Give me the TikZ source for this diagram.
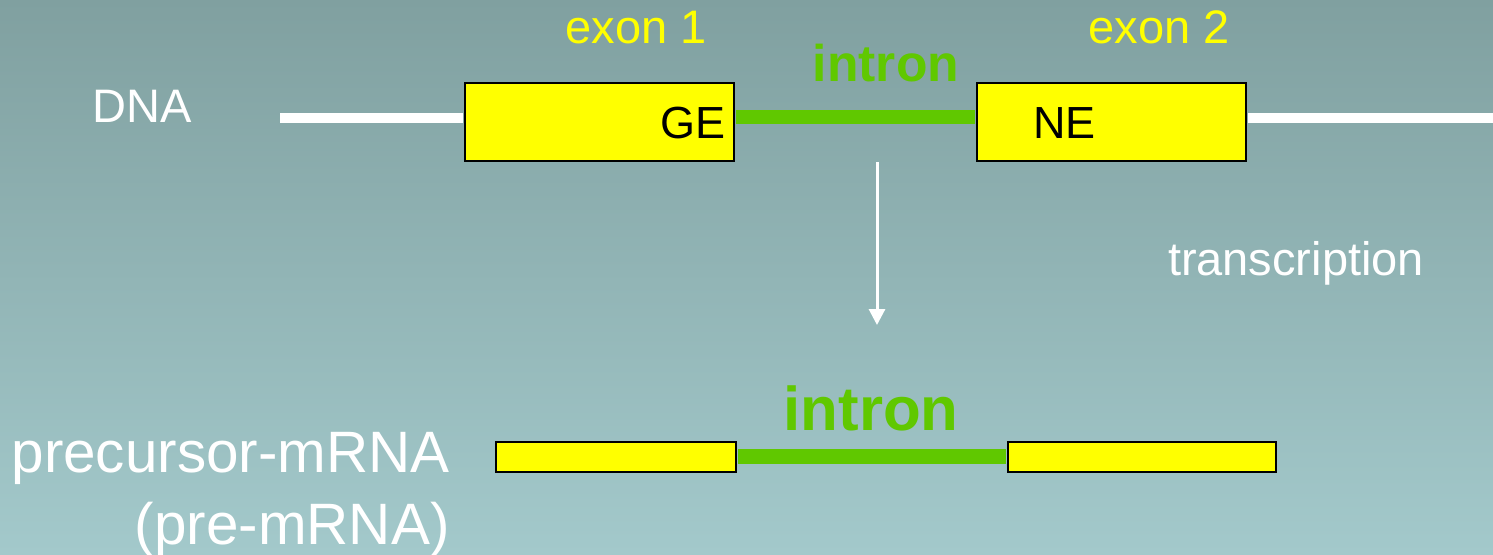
\documentclass[tikz,border=0pt]{standalone}
\usepackage{fontspec}
\setmainfont{Liberation Sans}
\usetikzlibrary{arrows.meta}
\definecolor{bgtop}{RGB}{128,160,160}
\definecolor{bgbot}{RGB}{163,201,203}
\definecolor{exonyellow}{RGB}{255,255,0}
\definecolor{introngreen}{RGB}{96,200,0}
\tikzset{
  lbl/.style={inner sep=0pt, font=\fontsize{23.5}{28}\selectfont},
  whitelbl/.style={lbl, text=white},
  exonlbl/.style={lbl, text=exonyellow},
  boxlbl/.style={inner sep=0pt, font=\fontsize{22.5}{27}\selectfont, text=black},
  introntop/.style={inner sep=0pt, font=\fontsize{25.8}{30}\selectfont\bfseries, text=introngreen},
  intronbot/.style={inner sep=0pt, font=\fontsize{30.9}{36}\selectfont\bfseries, text=introngreen},
  rnalbl/.style={inner sep=0pt, font=\fontsize{29.2}{35}\selectfont, text=white},
  exonbox/.style={draw=black, line width=1pt, fill=exonyellow, inner sep=0pt},
  dnaline/.style={white, line width=5.25pt},
  greenline/.style={introngreen, line width=7pt},
}
\begin{document}
\begin{tikzpicture}[x=0.5pt, y=-0.5pt]
\useasboundingbox (0,0) rectangle (1493,554);
\shade[top color=bgtop, bottom color=bgbot] (0,0) rectangle (1493,554);

% DNA row
\node[exonbox, minimum width=134.5pt, minimum height=39pt] (box1) at (599.5,122) {};
\node[exonbox, minimum width=134.5pt, minimum height=39pt] (box2) at (1111.5,122) {};
\coordinate (dnaL) at (280,118);
\coordinate (dnaR) at (1493,118);
\draw[dnaline, shorten >=0.5pt] (dnaL) -- (box1.west |- dnaL);
\draw[dnaline, shorten <=0.5pt] (box2.east |- dnaR) -- (dnaR);
\draw[greenline, shorten <=0.5pt, shorten >=0.5pt] (box1.east |- 0,117) -- (box2.west |- 0,117);

\node[whitelbl, anchor=base] (dna) at (142,122) {DNA};
\node[exonlbl, anchor=base] (ex1) at (636,43) {exon 1};
\node[exonlbl, anchor=base] (ex2) at (1159,43) {exon 2};
\node[introntop, anchor=base] (int1) at (886,81) {intron};
\node[boxlbl, anchor=base east] (ge) at (726,138) {GE};
\node[boxlbl, anchor=base west] (ne) at (1033,138) {NE};

% arrow
\coordinate (aTop) at (877,162);
\coordinate (aBot) at (877,325);
\draw[white, line width=1.5pt, -{Triangle[width=8pt,length=8pt]}] (aTop) -- (aBot);
\node[whitelbl, anchor=base] (tr) at (1296,275) {transcription};

% pre-mRNA row
\node[exonbox, minimum width=120pt, minimum height=15pt] (box3) at (616,456.5) {};
\node[exonbox, minimum width=134pt, minimum height=15pt] (box4) at (1142,456.5) {};
\draw[greenline, line width=7.5pt, shorten <=0.5pt, shorten >=0.5pt] (box3.east) -- (box4.west);
\node[intronbot, anchor=base] (int2) at (871,430) {intron};
\node[rnalbl, anchor=base east] (pre1) at (450,472) {precursor-mRNA};
\node[rnalbl, anchor=base east] (pre2) at (450,544) {(pre-mRNA)};
\end{tikzpicture}
\end{document}
